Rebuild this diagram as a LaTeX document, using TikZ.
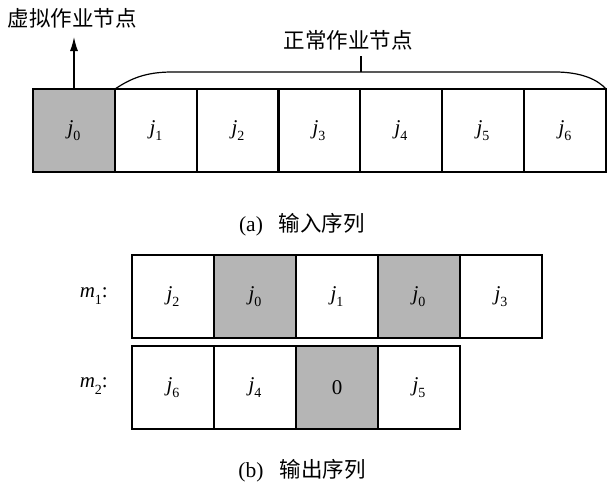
\documentclass[tikz,border=0pt]{standalone}
\usepackage{fontspec}
\setmainfont{Liberation Serif}
\newfontfamily\cjk{Noto Sans CJK SC}
\usetikzlibrary{arrows.meta}
\begin{document}
\begin{tikzpicture}[x=1pt,y=-1pt,
  cell/.style={draw, line width=1.2pt, minimum width=82pt, minimum height=83pt, inner sep=0pt, outer sep=0pt, anchor=north west, font=\fontsize{21}{24}\selectfont},
  gcell/.style={cell, fill=gray!58},
  cjklabel/.style={font=\cjk\fontsize{21.5}{24}\selectfont, inner sep=0pt},
  caption/.style={font=\fontsize{21.5}{24}\selectfont, inner sep=0pt},
  mlabel/.style={font=\fontsize{21}{24}\selectfont, inner sep=0pt, anchor=east}]
\useasboundingbox (0,0) rectangle (612,488);
\newcommand{\sbs}[1]{\raisebox{-0.3em}{\fontsize{14}{14}\selectfont #1}}
\newcommand{\jj}[1]{{\itshape j}\sbs{#1}}
% top row
\node[gcell] (a0) at (33,89) {\jj{0}};
\node[cell] (a1) at (115,89) {\jj{1}};
\node[cell] (a2) at (197,89) {\jj{2}};
\node[cell] (a3) at (278,89) {\jj{3}};
\node[cell] (a4) at (360,89) {\jj{4}};
\node[cell] (a5) at (442,89) {\jj{5}};
\node[cell] (a6) at (524,89) {\jj{6}};
% arrow and label
\node[cjklabel] (virt) at (72,18) {虚拟作业节点};
\coordinate (arrtip) at (74,37);
\draw[line width=1.2pt, -{Latex[length=14pt,width=8pt]}] (a0.north -| arrtip) -- (arrtip);
% brace
\coordinate (bm) at (361,72);
\draw[line width=1.2pt] (a1.north west) .. controls (130,79) and (145,72) .. (172,72) -- (555,72) .. controls (582,72) and (598,80) .. (a6.north east);
\node[cjklabel] (norm) at (348,40) {正常作业节点};
\draw[line width=1.2pt] (bm) -- (361,56);
\node[caption] (capa) at (302,225) {(a)\hspace{16pt}{\cjk 输入序列}};
% m1 row
\node[mlabel] (m1) at (108,296) {{\itshape m}\sbs{1}:};
\node[cell] (b1) at (132,255) {\jj{2}};
\node[gcell] (b2) at (214,255) {\jj{0}};
\node[cell] (b3) at (296,255) {\jj{1}};
\node[gcell] (b4) at (378,255) {\jj{0}};
\node[cell] (b5) at (460,255) {\jj{3}};
\draw[line width=2.2pt] (b5.north west) -- (b5.south west);
% m2 row
\node[mlabel] (m2) at (108,386) {{\itshape m}\sbs{2}:};
\node[cell] (c1) at (132,346) {\jj{6}};
\node[cell] (c2) at (214,346) {\jj{4}};
\node[gcell] (c3) at (296,346) {0};
\node[cell] (c4) at (378,346) {\jj{5}};
\node[caption] (capb) at (302,471) {(b)\hspace{16pt}{\cjk 输出序列}};
\end{tikzpicture}
\end{document}
